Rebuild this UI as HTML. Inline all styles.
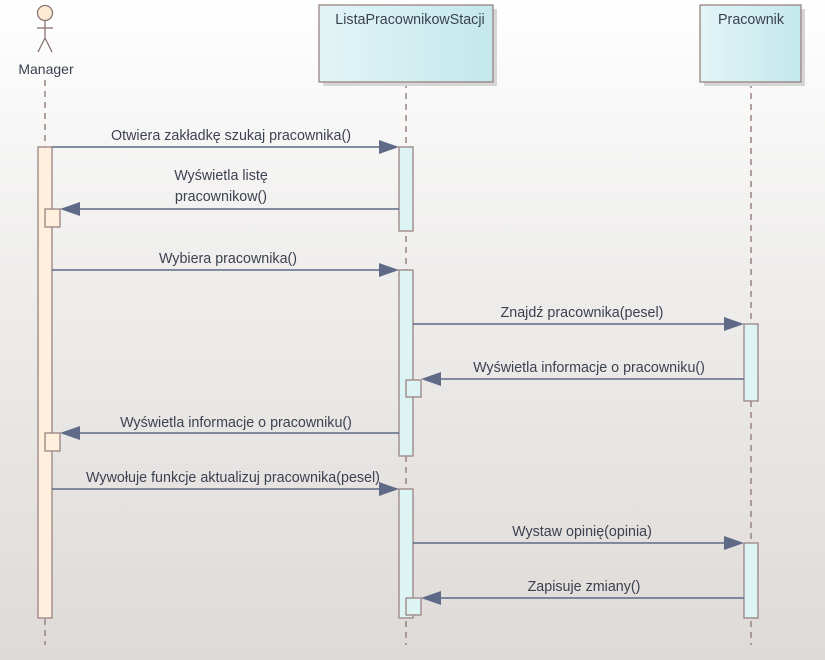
<!DOCTYPE html>
<html><head><meta charset="utf-8"><style>
html,body{margin:0;padding:0;}
body{width:825px;height:660px;overflow:hidden;background:linear-gradient(#ffffff 0%,#f1f0ef 35%,#dedad7 100%);}
svg{display:block;}
text{font-family:"Liberation Sans",sans-serif;font-size:14.3px;fill:#3c4250;}
</style></head><body>
<svg width="825" height="660" viewBox="0 0 825 660" xmlns="http://www.w3.org/2000/svg">
<defs>
<linearGradient id="cy" x1="0" x2="1" y1="0" y2="0"><stop offset="0" stop-color="#e2f4f6"/><stop offset="1" stop-color="#c4e8ec"/></linearGradient>
</defs>
<g stroke="#9a8282" stroke-width="1.5" stroke-dasharray="6,5">
<line x1="45" y1="80" x2="45" y2="645"/>
<line x1="406" y1="82" x2="406" y2="645"/>
<line x1="751" y1="82" x2="751" y2="645"/>
</g>
<circle cx="45" cy="13" r="7.5" fill="#fdebd3" stroke="#8a7474" stroke-width="1.3"/>
<g stroke="#8a7474" stroke-width="1.3" fill="none">
<line x1="45" y1="21" x2="45" y2="38"/><line x1="37" y1="28" x2="53" y2="28"/>
<line x1="45" y1="38" x2="38" y2="52"/><line x1="45" y1="38" x2="52" y2="52"/>
</g>
<text x="46" y="74" text-anchor="middle" style="font-size:14px">Manager</text>
<rect x="323" y="9" width="174" height="77" fill="#d6d6d6"/>
<rect x="319" y="5" width="174" height="77" fill="url(#cy)" stroke="#9a8282" stroke-width="1.3"/>
<text x="410" y="24" text-anchor="middle">ListaPracownikowStacji</text>
<rect x="704" y="9" width="101" height="77" fill="#d6d6d6"/>
<rect x="700" y="5" width="101" height="77" fill="url(#cy)" stroke="#9a8282" stroke-width="1.3"/>
<text x="751" y="24" text-anchor="middle">Pracownik</text>
<g stroke="#9a8282" stroke-width="1.3">
<rect x="38" y="147" width="14" height="471" fill="#fef0dc"/>
<rect x="399" y="147" width="14" height="84" fill="#dcf4f4"/>
<rect x="399" y="270" width="14" height="186" fill="#dcf4f4"/>
<rect x="399" y="489" width="14" height="129" fill="#dcf4f4"/>
<rect x="744" y="324" width="14" height="77" fill="#dcf4f4"/>
<rect x="744" y="543" width="14" height="75" fill="#dcf4f4"/>
<rect x="45" y="209" width="15" height="18" fill="#fef0dc"/>
<rect x="45" y="433" width="15" height="18" fill="#fef0dc"/>
<rect x="406" y="380" width="15" height="17" fill="#dcf4f4"/>
<rect x="406" y="598" width="15" height="17" fill="#dcf4f4"/>
</g>
<g stroke="#5e6a86" stroke-width="1.4">
<line x1="52" y1="147" x2="385" y2="147"/>
<line x1="399" y1="209" x2="74" y2="209"/>
<line x1="52" y1="270" x2="385" y2="270"/>
<line x1="413" y1="324" x2="730" y2="324"/>
<line x1="744" y1="379" x2="435" y2="379"/>
<line x1="399" y1="433" x2="74" y2="433"/>
<line x1="52" y1="489" x2="385" y2="489"/>
<line x1="413" y1="543" x2="730" y2="543"/>
<line x1="744" y1="598" x2="435" y2="598"/>
</g>
<g fill="#5e6a86">
<polygon points="399,147 379,140 379,154"/>
<polygon points="60,209 80,202 80,216"/>
<polygon points="399,270 379,263 379,277"/>
<polygon points="744,324 724,317 724,331"/>
<polygon points="421,379 441,372 441,386"/>
<polygon points="60,433 80,426 80,440"/>
<polygon points="399,489 379,482 379,496"/>
<polygon points="744,543 724,536 724,550"/>
<polygon points="421,598 441,591 441,605"/>
</g>
<g text-anchor="middle">
<text x="231" y="140">Otwiera zakładkę szukaj pracownika()</text>
<text x="221" y="180">Wyświetla listę</text>
<text x="221" y="201">pracownikow()</text>
<text x="228" y="263">Wybiera pracownika()</text>
<text x="582" y="317">Znajdź pracownika(pesel)</text>
<text x="589" y="372">Wyświetla informacje o pracowniku()</text>
<text x="236" y="427">Wyświetla informacje o pracowniku()</text>
<text x="233" y="482">Wywołuje funkcje aktualizuj pracownika(pesel)</text>
<text x="582" y="536">Wystaw opinię(opinia)</text>
<text x="584" y="591">Zapisuje zmiany()</text>
</g>
</svg>
</body></html>
